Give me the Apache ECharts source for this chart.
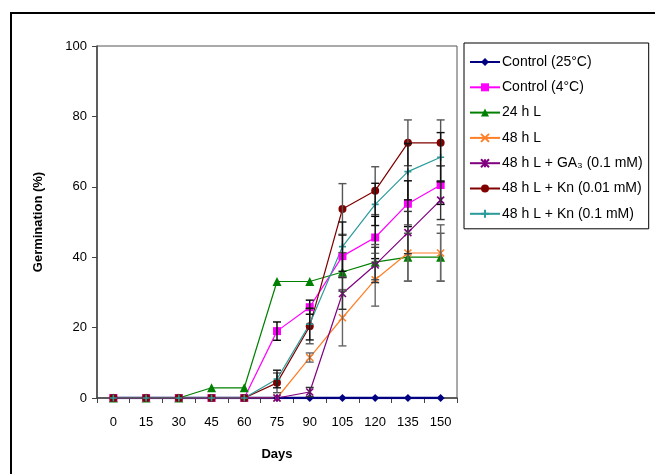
<!DOCTYPE html>
<html><head><meta charset="utf-8">
<script src="https://cdn.jsdelivr.net/npm/echarts@6/dist/echarts.min.js"></script>
<style>html,body{margin:0;padding:0;background:#fff}#c{width:655px;height:474px}</style>
</head><body><div id="c"></div>
<script>
const days = ['0','15','30','45','60','75','90','105','120','135','150'];
const yTicks = [0,20,40,60,80,100];
const names = ['Control (25°C)','Control (4°C)','24 h L','48 h L','48 h L + GA₃ (0.1 mM)','48 h L + Kn (0.01 mM)','48 h L + Kn (0.1 mM)'];

const ctrl25 = [0,0,0,0,0,0,0,0,0,0,0];
const ctrl4  = [0,0,0,0,0,19,25.8,40.3,45.6,55.2,60.5];
const h24L   = [0,0,0,2.9,2.9,33.1,33.1,35.8,38.6,40,40];
const h48L   = [0,0,0,0,0,0,11.5,22.8,33.6,41.2,41.2];
const ga3    = [0,0,0,0,0,0,1.7,29.7,37.8,47,56.2];
const kn001  = [0,0,0,0,0,4.3,20.4,53.7,58.9,72.5,72.5];
const kn01   = [0,0,0,0,0,5.4,21,43,55,64.3,68.4];

const errCtrl25 = [0,0,0,0,0,0,0,0,0,0,0];
const errCtrl4  = [0,0,0,0,0,2.6,2,6,6,6.5,5.5];
const err24L    = [0,0,0,0,0,0,0,5.5,5,6.8,6.8];
const err48L    = [0,0,0,0,0,0,1.3,8,7.5,8,8];
const errGA3    = [0,0,0,0,0,0,1.3,4.5,5,6,5.5];
const errKn001  = [0,0,0,0,0,2.8,5,7.2,6.8,6.5,6.5];
const errKn01   = [0,0,0,0,0,2.5,4.5,7,6,8,7];

const xPath = 'path://M0,0L10,10M10,0L0,10';
const starPath = 'path://M0,0L10,10M10,0L0,10M5,0L5,10';
const plusPath = 'path://M5,0L5,10M0,5L10,5';

const series = [
  {name:names[0], data:ctrl25, color:'#000080', symbol:'diamond', size:8, lw:2.5, err:errCtrl25, ec:'#000'},
  {name:names[1], data:ctrl4,  color:'#FF00FF', symbol:'rect', size:8, lw:1.2, err:errCtrl4, ec:'#000'},
  {name:names[2], data:h24L,   color:'#008000', symbol:'triangle', size:9, lw:1.2, err:err24L, ec:'#555'},
  {name:names[3], data:h48L,   color:'#FF7F27', symbol:xPath, size:7, lw:1.2, err:err48L, ec:'#666', stroke:true},
  {name:names[4], data:ga3,    color:'#800080', symbol:starPath, size:7, lw:1.2, err:errGA3, ec:'#333', stroke:true},
  {name:names[5], data:kn001,  color:'#800000', symbol:'circle', size:8, lw:1.2, err:errKn001, ec:'#555'},
  {name:names[6], data:kn01,   color:'#2A9A9A', symbol:plusPath, size:7, lw:1.2, err:errKn01, ec:'#111', stroke:true}
];

const seriesOpt = [];
series.forEach(s => {
  seriesOpt.push({
    type:'line', name:s.name, data:s.data, symbol:s.symbol, symbolSize:s.size,
    lineStyle:{color:s.color, width:s.lw}, itemStyle:{color:s.color, borderColor:s.color, borderWidth:s.stroke?1.6:0},
    emphasis:{disabled:true}, z:3
  });
});
series.forEach(s => {
  seriesOpt.push({
    type:'custom', name:s.name+'_err', data:s.data.map((v,i)=>[i,v,s.err[i]]), z:4,
    renderItem:function(params, api){
      const i = api.value(0), v = api.value(1), e = api.value(2);
      if (!e) return null;
      const top = api.coord([i, v+e]), bot = api.coord([i, v-e]);
      const x = top[0], hw = 4;
      const st = {stroke:s.ec, lineWidth:1.4};
      return {type:'group', children:[
        {type:'line', shape:{x1:x,y1:top[1],x2:x,y2:bot[1]}, style:st},
        {type:'line', shape:{x1:x-hw,y1:top[1],x2:x+hw,y2:top[1]}, style:st},
        {type:'line', shape:{x1:x-hw,y1:bot[1],x2:x+hw,y2:bot[1]}, style:st}
      ]};
    }
  });
});

const chart = echarts.init(document.getElementById('c'), null, {renderer:'canvas'});
chart.setOption({
  animation:false,
  textStyle:{fontFamily:'Liberation Sans, Arial, sans-serif'},
  graphic:[{type:'rect', shape:{x:11,y:13,width:700,height:500}, style:{fill:'none', stroke:'#000', lineWidth:2}, z:-1}],
  grid:{left:97, top:46, width:360, height:352, show:true, borderColor:'#555', borderWidth:1},
  legend:{
    orient:'vertical', left:464, top:43,
    data:names,
    itemWidth:30, itemHeight:10, itemGap:9.3,
    padding:[11,6,7,5],
    borderColor:'#000', borderWidth:1,
    textStyle:{fontSize:14, lineHeight:16, color:'#000', fontFamily:'Liberation Sans, Arial, sans-serif', padding:[0,0,0,-3]},
    selectedMode:false
  },
  xAxis:{
    type:'category', data:days, boundaryGap:true,
    name:'Days', nameLocation:'middle', nameGap:50,
    nameTextStyle:{fontSize:13, fontWeight:'bold', color:'#000'},
    axisLine:{lineStyle:{color:'#444', width:1.5}},
    axisTick:{show:true, length:5, lineStyle:{color:'#444'}},
    axisLabel:{fontSize:13, color:'#000', margin:18}
  },
  yAxis:{
    type:'value', min:0, max:100, interval:20,
    name:'Germination (%)', nameLocation:'middle', nameGap:52, nameRotate:90,
    nameTextStyle:{fontSize:13, fontWeight:'bold', color:'#000'},
    axisLine:{show:true, lineStyle:{color:'#444', width:1.5}},
    axisTick:{show:true, length:5, lineStyle:{color:'#444'}},
    axisLabel:{fontSize:13, color:'#000', margin:10, formatter:v=>yTicks.includes(v)?String(v):''},
    splitLine:{show:false}
  },
  series:seriesOpt
});
</script></body></html>
